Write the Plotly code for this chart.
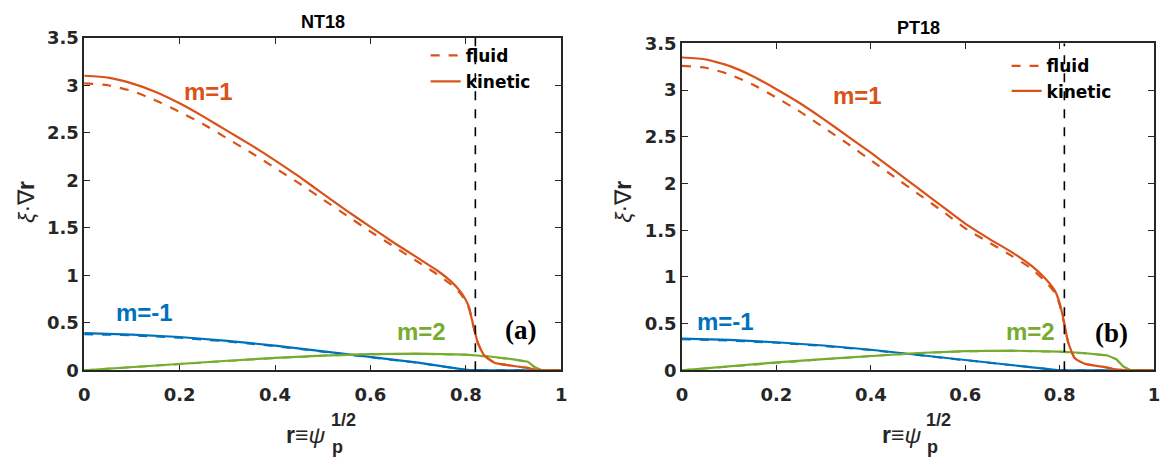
import plotly.graph_objects as go

# ---------------- data ----------------
# NT18 (left)
nt_m1_x = [0, 0.05, 0.1, 0.15, 0.2, 0.25, 0.3, 0.35, 0.4, 0.45, 0.5, 0.55, 0.6, 0.65, 0.7, 0.74, 0.77, 0.79,
           0.80, 0.807, 0.812, 0.817, 0.825, 0.838, 0.86, 0.9, 0.93, 0.95, 1.0]
nt_m1_kin = [3.10, 3.08, 3.02, 2.93, 2.81, 2.67, 2.52, 2.37, 2.21, 2.04, 1.86, 1.68, 1.51, 1.34, 1.18, 1.05, 0.93, 0.82,
             0.74, 0.66, 0.55, 0.45, 0.29, 0.16, 0.08, 0.045, 0.025, 0.0, 0.0]
nt_m1_flu = [3.02, 3.00, 2.94, 2.84, 2.72, 2.59, 2.44, 2.29, 2.13, 1.97, 1.80, 1.63, 1.46, 1.30, 1.14, 1.01, 0.90, 0.80,
             0.72, 0.65, 0.54, 0.44, 0.29, 0.16, 0.08, 0.045, 0.025, 0.0, 0.0]
nt_mm1_x = [0, 0.1, 0.2, 0.3, 0.4, 0.5, 0.6, 0.7, 0.78, 0.8, 0.85, 1.0]
nt_mm1_kin = [0.39, 0.375, 0.35, 0.31, 0.26, 0.20, 0.14, 0.08, 0.02, 0.005, 0.0, 0.0]
nt_mm1_flu = [0.38, 0.367, 0.342, 0.303, 0.254, 0.196, 0.137, 0.078, 0.019, 0.005, 0.0, 0.0]
nt_m2_x = [0, 0.1, 0.2, 0.3, 0.4, 0.5, 0.6, 0.7, 0.8, 0.85, 0.9, 0.93, 0.945, 0.96, 1.0]
nt_m2_kin = [0.0, 0.035, 0.068, 0.10, 0.13, 0.155, 0.17, 0.175, 0.165, 0.145, 0.115, 0.09, 0.03, 0.0, 0.0]
nt_m2_flu = [0.0, 0.034, 0.066, 0.098, 0.128, 0.153, 0.168, 0.173, 0.163, 0.143, 0.113, 0.088, 0.03, 0.0, 0.0]
nt_qs = 0.82

# PT18 (right)
pt_m1_x = [0, 0.05, 0.1, 0.15, 0.2, 0.25, 0.3, 0.35, 0.4, 0.45, 0.5, 0.55, 0.6, 0.65, 0.7, 0.74, 0.77, 0.79,
           0.80, 0.81, 0.818, 0.832, 0.853, 0.9, 0.92, 0.94, 1.0]
pt_m1_kin = [3.35, 3.33, 3.26, 3.15, 3.01, 2.86, 2.69, 2.51, 2.33, 2.14, 1.95, 1.76, 1.57, 1.41, 1.26, 1.12, 0.98, 0.85,
             0.72, 0.50, 0.30, 0.13, 0.07, 0.03, 0.01, 0.0, 0.0]
pt_m1_flu = [3.26, 3.24, 3.17, 3.06, 2.92, 2.77, 2.60, 2.43, 2.25, 2.07, 1.89, 1.71, 1.52, 1.37, 1.22, 1.09, 0.95, 0.83,
             0.70, 0.49, 0.30, 0.13, 0.07, 0.03, 0.01, 0.0, 0.0]
pt_mm1_x = [0, 0.1, 0.2, 0.3, 0.4, 0.5, 0.6, 0.7, 0.78, 0.8, 1.0]
pt_mm1_kin = [0.34, 0.325, 0.30, 0.265, 0.22, 0.165, 0.11, 0.055, 0.012, 0.0, 0.0]
pt_mm1_flu = [0.333, 0.318, 0.294, 0.26, 0.216, 0.162, 0.108, 0.054, 0.012, 0.0, 0.0]
pt_m2_x = [0, 0.1, 0.2, 0.3, 0.4, 0.5, 0.6, 0.7, 0.8, 0.85, 0.9, 0.92, 0.935, 0.95, 1.0]
pt_m2_kin = [0.0, 0.043, 0.085, 0.12, 0.155, 0.185, 0.205, 0.21, 0.20, 0.185, 0.16, 0.12, 0.04, 0.0, 0.0]
pt_m2_flu = [0.0, 0.042, 0.083, 0.118, 0.153, 0.183, 0.203, 0.208, 0.198, 0.183, 0.158, 0.118, 0.04, 0.0, 0.0]
pt_qs = 0.81

x_ticks = [0, 0.2, 0.4, 0.6, 0.8, 1]
y_ticks = [0, 0.5, 1, 1.5, 2, 2.5, 3, 3.5]
titles = ["NT18", "PT18"]
panel_tags = ["(a)", "(b)"]

# ---------------- style ----------------
ORANGE = "#D95319"
BLUE = "#0072BD"
GREEN = "#77AC30"
AX = "#262626"
W, H = 1167, 472
SANS = "Liberation Sans, Arial"
WIDE = "DejaVu Sans"

fig = go.Figure()


def add_panel(xa, ya, legend, m1x, m1k, m1f, mm1x, mm1k, mm1f, m2x, m2k, m2f):
    sm = dict(shape="spline", smoothing=0.5)
    for xs, ys, col in [(mm1x, mm1f, BLUE), (m2x, m2f, GREEN)]:
        fig.add_trace(go.Scatter(x=xs, y=ys, mode="lines", line=dict(color=col, width=2, dash="dash"),
                                 xaxis=xa, yaxis=ya, showlegend=False, hoverinfo="skip"))
    for xs, ys, col in [(mm1x, mm1k, BLUE), (m2x, m2k, GREEN)]:
        fig.add_trace(go.Scatter(x=xs, y=ys, mode="lines", line=dict(color=col, width=2.2),
                                 xaxis=xa, yaxis=ya, showlegend=False, hoverinfo="skip"))
    fig.add_trace(go.Scatter(x=m1x, y=m1f, mode="lines", name="fluid", legendgroup=legend + "f",
                             line=dict(color=ORANGE, width=2.2, dash="dash", **sm),
                             xaxis=xa, yaxis=ya, legend=legend))
    fig.add_trace(go.Scatter(x=m1x, y=m1k, mode="lines", name="kinetic", legendgroup=legend + "k",
                             line=dict(color=ORANGE, width=2.2, **sm),
                             xaxis=xa, yaxis=ya, legend=legend))


add_panel("x", "y", "legend", nt_m1_x, nt_m1_kin, nt_m1_flu, nt_mm1_x, nt_mm1_kin, nt_mm1_flu,
          nt_m2_x, nt_m2_kin, nt_m2_flu)
add_panel("x2", "y2", "legend2", pt_m1_x, pt_m1_kin, pt_m1_flu, pt_mm1_x, pt_mm1_kin, pt_mm1_flu,
          pt_m2_x, pt_m2_kin, pt_m2_flu)

# q-surface lines
fig.add_shape(type="line", x0=nt_qs, x1=nt_qs, y0=0, y1=1, xref="x", yref="y domain",
              line=dict(color="black", width=1.6, dash="dash"))
fig.add_shape(type="line", x0=pt_qs, x1=pt_qs, y0=0, y1=1, xref="x2", yref="y2 domain",
              line=dict(color="black", width=1.6, dash="dash"))

# axes geometry (pixels -> paper)
L_x0, L_x1, L_top = 79, 561, 28
R_x0, R_x1, R_top = 683, 1160, 34
BOT = 376


def px2paper_x(p):
    return p / W


def px2paper_y(p):
    return (H - p) / H


axis_common = dict(showline=True, linecolor=AX, linewidth=1.5, mirror="ticks", ticks="inside",
                   ticklen=6, tickwidth=1.3, tickcolor=AX, showgrid=False, zeroline=False,
                   tickfont=dict(family=WIDE, size=18, color=AX, weight="bold"))

leg_font = dict(family=WIDE, size=17, color="black", weight="bold")
fig.update_layout(
    width=W, height=H, margin=dict(l=0, r=0, t=0, b=0),
    paper_bgcolor="white", plot_bgcolor="white",
    xaxis=dict(domain=[px2paper_x(L_x0), px2paper_x(L_x1)], range=[0, 1], tickvals=x_ticks,
               ticktext=[f"{v:g}" for v in x_ticks], anchor="y", ticklabelstandoff=7, **axis_common),
    yaxis=dict(domain=[px2paper_y(BOT), px2paper_y(L_top)], range=[0, 3.5], tickvals=y_ticks,
               ticktext=[f"{v:g}" for v in y_ticks], anchor="x", **axis_common),
    xaxis2=dict(domain=[px2paper_x(R_x0), px2paper_x(R_x1)], range=[0, 1], tickvals=x_ticks,
                ticktext=[f"{v:g}" for v in x_ticks], anchor="y2", ticklabelstandoff=7, **axis_common),
    yaxis2=dict(domain=[px2paper_y(BOT), px2paper_y(R_top)], range=[0, 3.5], tickvals=y_ticks,
                ticktext=[f"{v:g}" for v in y_ticks], anchor="x2", **axis_common),
    legend=dict(x=px2paper_x(424), y=px2paper_y(28), xanchor="left", yanchor="top",
                bgcolor="rgba(0,0,0,0)", traceorder="grouped", tracegroupgap=1, itemwidth=30,
                font=leg_font),
    legend2=dict(x=px2paper_x(1011), y=px2paper_y(39), xanchor="left", yanchor="top",
                 bgcolor="rgba(0,0,0,0)", traceorder="grouped", tracegroupgap=0, itemwidth=30,
                 font=leg_font),
    showlegend=True,
)


def note(**kw):
    kw.setdefault("showarrow", False)
    kw.setdefault("xanchor", "center")
    kw.setdefault("yanchor", "middle")
    fig.add_annotation(**kw)


ann_font = dict(family=SANS, size=24, weight="bold")
anns = [
    ("x", "y", 0.261, 2.93, "m=1", ORANGE),
    ("x", "y", 0.127, 0.61, "m=-1", BLUE),
    ("x", "y", 0.707, 0.41, "m=2", GREEN),
    ("x2", "y2", 0.371, 2.94, "m=1", ORANGE),
    ("x2", "y2", 0.092, 0.52, "m=-1", BLUE),
    ("x2", "y2", 0.738, 0.41, "m=2", GREEN),
]
for xr, yr, xv, yv, txt, col in anns:
    note(x=xv, y=yv, xref=xr, yref=yr, text=txt, font=dict(color=col, **ann_font))

tag_font = dict(family="Liberation Serif, Times New Roman", size=27, color="black", weight="bold")
note(x=0.915, y=0.42, xref="x", yref="y", text=panel_tags[0], font=tag_font)
note(x=0.91, y=0.40, xref="x2", yref="y2", text=panel_tags[1], font=tag_font)

# titles
title_font = dict(family=SANS, size=18, color="black", weight="bold")
note(x=px2paper_x((L_x0 + L_x1) / 2), y=px2paper_y(12), xref="paper", yref="paper",
     text=titles[0], font=title_font)
note(x=px2paper_x((R_x0 + R_x1) / 2), y=px2paper_y(18), xref="paper", yref="paper",
     text=titles[1], font=title_font)

# axis labels
lab_font = dict(family=SANS, size=23, color=AX)
small = dict(family=SANS, size=18, color=AX)
for cx, yl_x in [((L_x0 + L_x1) / 2, 20), ((R_x0 + R_x1) / 2, 624)]:
    note(x=px2paper_x(cx - 17), y=px2paper_y(444), xref="paper", yref="paper",
         text="<b>r</b>≡<i>ψ</i>", font=lab_font)
    note(x=px2paper_x(cx + 21), y=px2paper_y(428), xref="paper", yref="paper",
         text="<b>1/2</b>", font=small)
    note(x=px2paper_x(cx + 15), y=px2paper_y(456), xref="paper", yref="paper",
         text="<b>p</b>", font=small)
    note(x=px2paper_x(yl_x), y=px2paper_y(200), xref="paper", yref="paper",
         text="<i>ξ</i>·∇<b>r</b>", textangle=-90, font=lab_font)

fig.write_html("out.html")
